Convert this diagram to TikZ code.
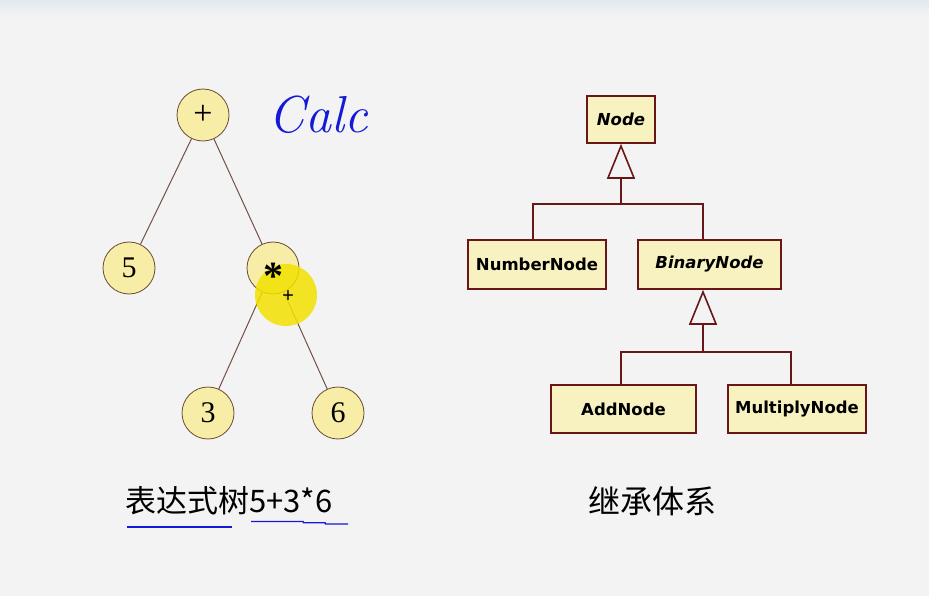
\documentclass[tikz,border=0pt]{standalone}
\usepackage{fontspec}
\setsansfont{DejaVu Sans}
\newfontfamily\cjk{Noto Sans CJK SC}
\newfontfamily\treefont{Liberation Serif}
\usetikzlibrary{arrows.meta,calc,positioning}
\definecolor{bgcol}{RGB}{243,243,243}
\definecolor{bandcol}{RGB}{226,233,240}
\definecolor{circfill}{RGB}{247,237,166}
\definecolor{circdraw}{RGB}{105,75,50}
\definecolor{edgecol}{RGB}{115,80,70}
\definecolor{umlfill}{RGB}{247,242,192}
\definecolor{umldraw}{RGB}{105,22,22}
\definecolor{hilite}{RGB}{242,226,0}
\definecolor{ink}{RGB}{20,25,215}

\begin{document}
\begin{tikzpicture}[x=1pt,y=-1pt,>=Latex,
  leaf/.style={circle,draw=circdraw,fill=circfill,line width=0.8pt,minimum size=52pt,inner sep=0pt,font=\treefont\fontsize{30}{30}\selectfont},
  edge/.style={draw=edgecol,line width=1pt},
  cls/.style={draw=umldraw,fill=umlfill,line width=1.6pt,inner sep=0pt,font=\sffamily\bfseries\fontsize{16.5}{16.5}\selectfont},
  inherit/.style={draw=umldraw,line width=1.6pt},
  isa/.style={inherit,-{Triangle[open,length=35pt,width=28pt,line width=1.6pt]}}]
\useasboundingbox (0,0) rectangle (929,596);
\fill[bgcol] (0,0) rectangle (929,596);
\shade[top color=bandcol,bottom color=bgcol] (0,0) rectangle (929,16);

\node[leaf] (plus) at (203,115) {\fontsize{34}{34}\selectfont +};
\node[leaf] (five) at (129,268) {5};
\node[leaf] (times) at (273,268) {};
\node[leaf] (three) at (208,413) {3};
\node[leaf] (six) at (338,413) {6};
\draw[edge] (plus) -- (five);
\draw[edge] (plus) -- (times);
\draw[edge] (times) -- (three);
\draw[edge] (times) -- (six);
\fill[hilite,opacity=0.85] (286,295) circle (31);
\node[anchor=north,inner sep=0pt,font=\treefont\bfseries\fontsize{40}{40}\selectfont] (timeslabel) at (273,263) {*};
\node[inner sep=0pt,font=\treefont\bfseries\fontsize{21}{21}\selectfont] (cursor) at (288,297) {+};
\node[text=ink,font=\itshape\fontsize{52}{52}\selectfont] (calc) at (318,115) {Calc};

\node[cls,minimum width=68pt,minimum height=47pt,font=\sffamily\bfseries\itshape\fontsize{16.5}{16.5}\selectfont] (top) at (621,119.5) {Node};
\node[cls,minimum width=138pt,minimum height=49pt] (numnode) at (537,264.5) {NumberNode};
\node[cls,minimum width=143pt,minimum height=49pt,font=\sffamily\bfseries\itshape\fontsize{16.5}{16.5}\selectfont] (binnode) at (709.5,264.5) {BinaryNode};
\node[cls,minimum width=145pt,minimum height=48pt] (addnode) at (623.5,409) {AddNode};
\node[cls,minimum width=138pt,minimum height=48pt] (mulnode) at (797,409) {MultiplyNode};

\coordinate (j1) at (621,204);
\coordinate (j2) at (703,352);
\draw[inherit] ($(numnode.north)+(-4,0)$) |- (j1) -| ($(binnode.north)+(-6.5,0)$);
\draw[isa] (j1) -- (j1 |- top.south);
\draw[inherit] ($(addnode.north)+(-2.5,0)$) |- (j2) -| ($(mulnode.north)+(-6,0)$);
\draw[isa] (j2) -- (j2 |- binnode.south);

\node[font=\cjk\fontsize{31}{31}\selectfont] (exprcap) at (229,501) {表达式树5+3*6};
\node[font=\cjk\fontsize{32}{32}\selectfont] (hiercap) at (652,501) {继承体系};
\draw[ink,line width=1.4pt] (127,527) -- (232,527);
\draw[ink,line width=1.4pt] (251,521.5) -- (303,521.5) -- (303.5,522.7) -- (325,522.7) -- (325.5,524) -- (348,524);
\end{tikzpicture}
\end{document}
